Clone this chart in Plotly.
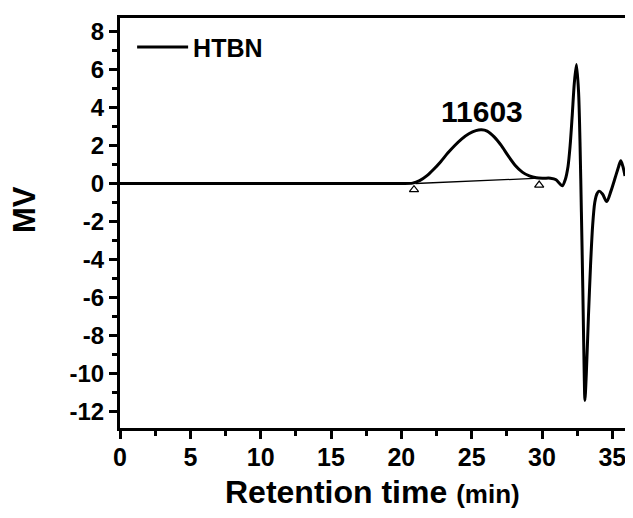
import plotly.graph_objects as go

# Chromatogram (GPC trace)
time_min = [0, 5, 10, 15, 20, 20.8, 21.3, 21.8, 22.3, 22.8, 23.3, 23.8, 24.3, 24.8, 25.3,
            25.7, 26.1, 26.6, 27.1, 27.6, 28.1, 28.6, 29.1, 29.6, 30.1, 30.6, 31.0, 31.25,
            31.45, 31.65, 31.85, 32.0, 32.15, 32.3, 32.45, 32.6, 32.7, 32.8, 32.9, 33.0,
            33.05, 33.15, 33.3, 33.45, 33.6, 33.75, 33.9, 34.05, 34.3, 34.6, 34.9, 35.2,
            35.45, 35.6, 35.75, 35.9]
signal_mv = [0, 0, 0, 0, 0, 0.02, 0.15, 0.4, 0.75, 1.15, 1.6, 2.0, 2.35, 2.62, 2.78,
             2.82, 2.75, 2.45, 2.0, 1.45, 0.95, 0.6, 0.4, 0.3, 0.28, 0.28, 0.2, 0.0,
             -0.12, 0.2, 0.9, 2.0, 3.6, 5.3, 6.25, 4.8, 2.2, -1.5, -5.5, -10.0,
             -11.4, -10.0, -7.0, -4.3, -2.2, -1.0, -0.55, -0.4, -0.55, -0.95, -0.4, 0.3,
             0.9, 1.2, 0.9, 0.4]

# integration baseline and its markers
baseline_x = [21.0, 29.8]
baseline_y = [0.0, 0.28]
marker_x = [20.9, 29.8]
marker_y = [-0.32, -0.08]

peak_label = "11603"
peak_label_x = 25.75
peak_label_y = 3.8

x_tickvals = [0, 5, 10, 15, 20, 25, 30, 35]
x_ticktext = ["0", "5", "10", "15", "20", "25", "30", "35"]
y_tickvals = [8, 6, 4, 2, 0, -2, -4, -6, -8, -10, -12]
y_ticktext = ["8", "6", "4", "2", "0", "-2", "-4", "-6", "-8", "-10", "-12"]

FONT = "Liberation Sans, Arial, sans-serif"

fig = go.Figure()
fig.add_trace(go.Scatter(x=time_min, y=signal_mv, mode="lines", name="<b>HTBN</b>",
                         line=dict(color="black", width=3, shape="spline", smoothing=0.8)))
fig.add_trace(go.Scatter(x=baseline_x, y=baseline_y, mode="lines", showlegend=False,
                         line=dict(color="black", width=1.3)))
fig.add_trace(go.Scatter(x=marker_x, y=marker_y, mode="markers", showlegend=False,
                         marker=dict(symbol="triangle-up-open", size=8, color="black",
                                     line=dict(width=1.2, color="black"))))

fig.add_annotation(x=peak_label_x, y=peak_label_y, text="<b>" + peak_label + "</b>",
                   showarrow=False, font=dict(family=FONT, size=30, color="black"))

fig.add_annotation(xref="paper", yref="paper", x=0.5, y=0, yshift=-64, yanchor="middle",
                   text="<b>Retention time <span style='font-size:26px'>(min)</span></b>",
                   showarrow=False, font=dict(family=FONT, size=32, color="black"))
fig.add_annotation(xref="paper", yref="paper", x=0, xshift=-96, y=0.5, yshift=13,
                   textangle=-90, xanchor="center", yanchor="middle", text="<b>MV</b>",
                   showarrow=False, font=dict(family=FONT, size=31, color="black"))

fig.update_xaxes(range=[0, 35.9], tickmode="array", tickvals=x_tickvals,
                 ticktext=["<b>" + t + "</b>" for t in x_ticktext],
                 ticks="outside", ticklen=8, tickwidth=3, tickcolor="black",
                 ticklabelstandoff=-3,
                 showline=True, linewidth=3, linecolor="black", mirror=True,
                 showgrid=False, zeroline=False,
                 tickfont=dict(family=FONT, size=25, color="black"),
                 minor=dict(ticks="outside", ticklen=5, tickwidth=3, tickcolor="black",
                            tickmode="linear", tick0=0, dtick=2.5, showgrid=False))
fig.update_yaxes(range=[-12.85, 8.7], tickmode="array", tickvals=y_tickvals,
                 ticktext=["<b>" + t + "</b>" for t in y_ticktext],
                 ticks="outside", ticklen=8, tickwidth=3, tickcolor="black",
                 showline=True, linewidth=3, linecolor="black", mirror=True,
                 showgrid=False, zeroline=False,
                 tickfont=dict(family=FONT, size=24, color="black"),
                 minor=dict(ticks="outside", ticklen=5, tickwidth=3, tickcolor="black",
                            tickmode="linear", tick0=0, dtick=1, showgrid=False))

# page body adds an 8px margin, so the figure is sized to fit the 633x518 window
fig.update_layout(
    width=625, height=510,
    margin=dict(l=112, r=5, t=10, b=90),
    plot_bgcolor="white", paper_bgcolor="white",
    font=dict(family=FONT, color="black"),
    showlegend=True,
    legend=dict(x=0.024, y=0.985, xanchor="left", yanchor="top",
                bgcolor="rgba(0,0,0,0)", itemwidth=51,
                font=dict(family=FONT, size=25, color="black")),
)

fig.write_html("out.html")
